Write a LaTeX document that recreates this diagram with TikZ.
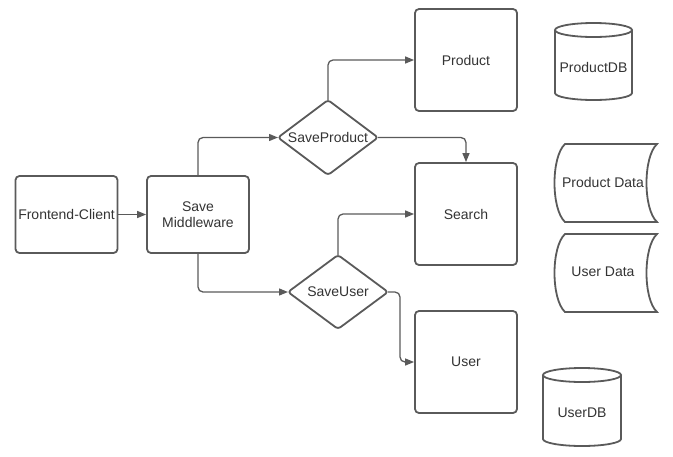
\documentclass[tikz,border=0pt]{standalone}
\usepackage{fontspec}
\setmainfont{Liberation Sans}
\usetikzlibrary{shapes.geometric,arrows.meta}
\definecolor{ln}{HTML}{5A5A5A}
\definecolor{tx}{HTML}{333333}
\begin{document}
\begin{tikzpicture}[x=1pt,y=-1pt,
  every node/.style={font=\fontsize{14}{16}\selectfont, text=tx},
  box/.style={draw=ln, line width=1.8pt, rounded corners=4pt, minimum width=102pt, minimum height=77pt, align=center, inner sep=0pt},
  bigbox/.style={box, minimum height=102pt},
  shp/.style={draw=ln, line width=1.8pt},
  conn/.style={draw=ln, line width=1.3pt, rounded corners=5pt, -{Triangle[length=9pt,width=7pt]}}
]
\useasboundingbox (0,0) rectangle (673,456);
% boxes
\node[box] (fc) at (66.5,214.5) {Frontend-Client};
\node[box] (sm) at (198,214.5) {Save\\Middleware};
\node[bigbox] (prod) at (466,60) {Product};
\node[bigbox] (srch) at (466,214) {Search};
\node[bigbox] (user) at (466,362) {User};
% diamonds
\draw[shp, rounded corners=3pt] (278,137.5) -- (328,100) -- (378,137.5) -- (328,175) -- cycle;
\node (sp) at (328,137.5) {SaveProduct};
\draw[shp, rounded corners=3pt] (288,292) -- (338,255) -- (388,292) -- (338,329) -- cycle;
\node (su) at (338,292) {SaveUser};
\coordinate (spL) at (278,137.5);
\coordinate (spR) at (378,137.5);
\coordinate (spT) at (328,100);
\coordinate (suL) at (288,292);
\coordinate (suR) at (388,292);
\coordinate (suT) at (338,255);
% connectors
\draw[conn] (fc.east) -- (sm.west);
\draw[conn] (sm.north) |- (spL);
\draw[conn] (sm.south) |- (suL);
\draw[conn] (spT) |- (prod.west);
\draw[conn] (spR) -| (srch.north);
\draw[conn] (suT) |- (srch.west);
\draw[conn] (suR) -- (400,292) |- (user.west);
% ProductDB cylinder
\draw[shp] (593.5,30) ellipse [x radius=38.5pt, y radius=7pt];
\draw[shp] (555,30) -- (555,93) arc[start angle=180, end angle=360, x radius=38.5pt, y radius=7pt] -- (632,30);
\node (pdb) at (593.5,67) {ProductDB};
% UserDB cylinder
\draw[shp] (582,375) ellipse [x radius=39pt, y radius=7pt];
\draw[shp] (543,375) -- (543,439) arc[start angle=180, end angle=360, x radius=39pt, y radius=7pt] -- (621,375);
\node (udb) at (582,413) {UserDB};
% stored data shapes
\draw[shp] (565,144) -- (657,144) .. controls (643,157) and (643,209) .. (657,222) -- (565,222) .. controls (551,209) and (551,157) .. (565,144) -- cycle;
\node (pd) at (603,182) {Product Data};
\draw[shp] (565,234) -- (657,234) .. controls (643,247) and (643,299) .. (657,312) -- (565,312) .. controls (551,299) and (551,247) .. (565,234) -- cycle;
\node (ud) at (603,272) {User Data};
\end{tikzpicture}
\end{document}
